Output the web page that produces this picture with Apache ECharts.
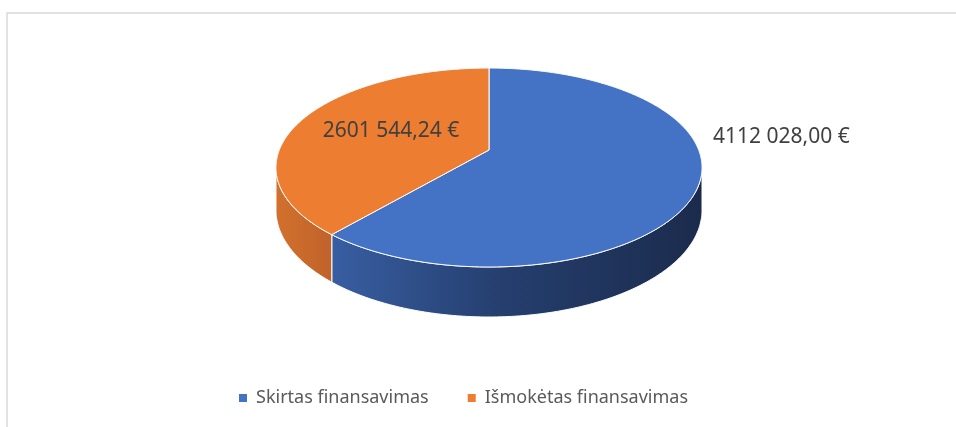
<!DOCTYPE html>
<html>
<head>
<meta charset="utf-8">
<script src="https://cdn.jsdelivr.net/npm/echarts@6/dist/echarts.min.js"></script>
<style>
  html, body { margin: 0; padding: 0; background: #fff; }
  #main { width: 956px; height: 427px; }
</style>
</head>
<body>
<div id="main"></div>
<script>
// duomenys
const categories = ['Skirtas finansavimas', 'Išmokėtas finansavimas']
const values = [4112028.00, 2601544.24]
const topColors = ['#4472c4', '#ed7d31']
const sideColors = [
  [[0, '#385ea2'], [0.45, '#253f6f'], [1, '#1b2b4c']],
  [[0, '#d2712e'], [1, '#c0622a']]
]

// 3D pyrago isdestymas (Excel perspektyva)
const CX = 489, CY = 150, RX = 209.7, RY = 96.4, Q = 0.176, DEPTH = 41.2
const labelPos = [[713, 137, 'left'], [391, 131, 'center']]
const FONT = '"Noto Sans", sans-serif'

const total = values.reduce((a, b) => a + b, 0)

function proj (t, r) {
  const s = 1 / (1 + Q * r * Math.cos(t))
  return [CX + r * RX * Math.sin(t) * s, CY - r * RY * Math.cos(t) * s, DEPTH * s]
}

function fmt (v) {
  const p = v.toFixed(2).split('.')
  const i = p[0]
  return (i.length > 3 ? i.slice(0, -3) + ' ' + i.slice(-3) : i) + ',' + p[1] + ' €'
}

function makeRender (k) {
  return function (params, api) {
    const before = values.slice(0, k).reduce((a, b) => a + b, 0)
    const t0 = before / total * 2 * Math.PI
    const t1 = (before + api.value(0)) / total * 2 * Math.PI
    const children = []
    // sonas
    const tMin = Math.acos(-Q)
    const tMax = 2 * Math.PI - tMin
    const a = Math.max(t0, tMin)
    const b = Math.min(t1, tMax)
    if (b > a) {
      const up = []
      const down = []
      const n = Math.max(2, Math.ceil((b - a) / 0.01))
      for (let j = 0; j <= n; j++) {
        const p = proj(a + (b - a) * j / n, 1)
        up.push([p[0], p[1]])
        down.push([p[0], p[1] + p[2]])
      }
      const xs = up.map(p => p[0])
      children.push({
        type: 'polygon',
        shape: { points: up.concat(down.reverse()) },
        style: {
          fill: new echarts.graphic.LinearGradient(Math.min(...xs), 0, Math.max(...xs), 0,
            sideColors[k].map(s => ({ offset: s[0], color: s[1] })), true),
          stroke: '#fff',
          lineWidth: 1
        }
      })
    }
    // virsus
    const top = [[CX, CY]]
    const m = Math.max(2, Math.ceil((t1 - t0) / 0.01))
    for (let j = 0; j <= m; j++) {
      const p = proj(t0 + (t1 - t0) * j / m, 1)
      top.push([p[0], p[1]])
    }
    children.push({
      type: 'polygon',
      shape: { points: top },
      style: { fill: topColors[k], stroke: '#fff', lineWidth: 1 }
    })
    const lp = labelPos[k]
    children.push({
      type: 'text',
      style: {
        text: fmt(api.value(0)),
        x: lp[0],
        y: lp[1],
        align: lp[2],
        verticalAlign: 'middle',
        font: '21px ' + FONT,
        fill: '#404040'
      }
    })
    return { type: 'group', children: children }
  }
}

const chart = echarts.init(document.getElementById('main'))
chart.setOption({
  animation: false,
  graphic: [{
    type: 'rect',
    shape: { x: 7, y: 13, width: 1000, height: 500 },
    style: { fill: 'none', stroke: '#d9d9d9', lineWidth: 1.5 }
  }],
  legend: {
    data: categories,
    left: 234,
    top: 384,
    icon: 'rect',
    itemWidth: 8,
    itemHeight: 8,
    itemGap: 39,
    textStyle: { fontFamily: FONT, fontSize: 18, color: '#595959', padding: [0, 0, 0, 4] }
  },
  series: categories.map((name, k) => ({
    type: 'custom',
    name: name,
    coordinateSystem: 'none',
    itemStyle: { color: topColors[k] },
    renderItem: makeRender(k),
    data: [[values[k]]]
  }))
})
</script>
</body>
</html>
